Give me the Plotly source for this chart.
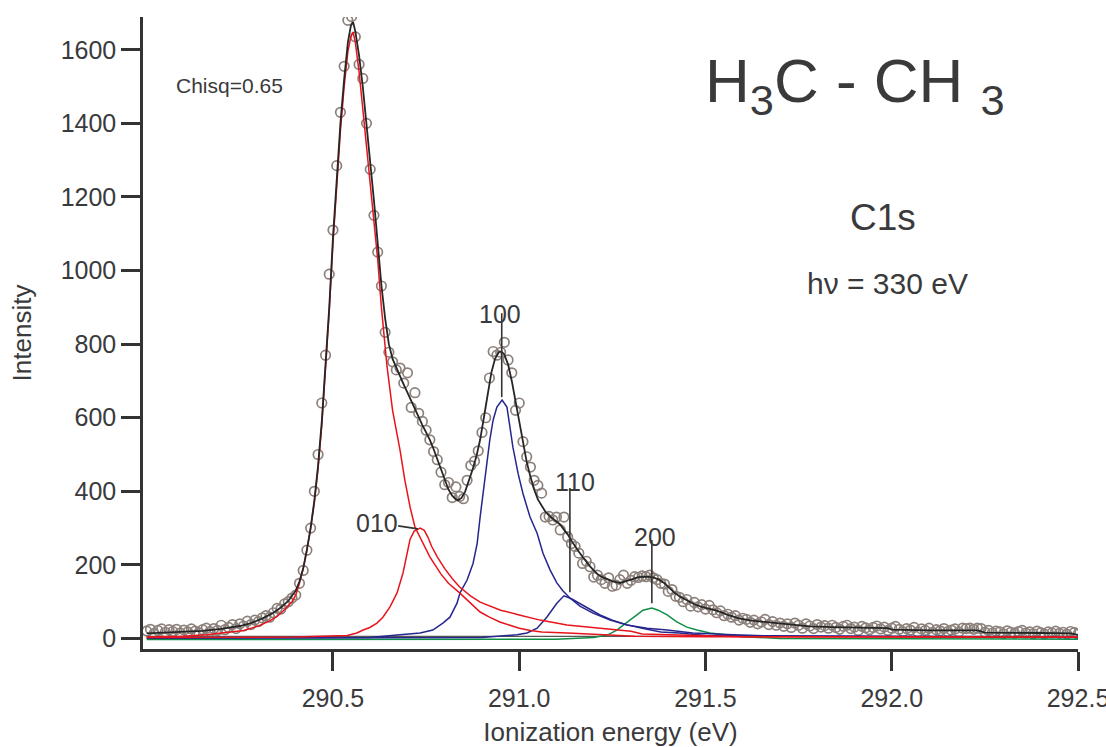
import numpy as np
import plotly.graph_objects as go

# ---------------- data ----------------
energy = np.linspace(290.0, 292.5, 251)  # measured energy grid, 10 meV step

intensity = [
    20, 25, 14, 22, 26, 17, 24, 19, 25, 15, 23, 18, 26, 20, 16, 24, 28, 19, 27, 22,
    36, 24, 30, 38, 27, 40, 34, 47, 38, 50, 46, 56, 62, 58, 70, 82, 80, 94, 100, 110,
    118, 150, 185, 240, 300, 400, 500, 640, 770, 990, 1110, 1285, 1430, 1555, 1680, 1690,
    1635, 1560, 1522, 1400, 1275, 1150, 1050, 958, 832, 778, 752, 730, 735, 694,
    722, 628, 668, 612, 590, 566, 540, 508, 486, 452, 418, 424, 383, 412, 386,
    380, 430, 470, 482, 510, 560, 600, 708, 780, 770, 778, 805, 757, 722, 620, 640, 535, 494, 466, 430,
    416, 395, 330, 332, 322, 330, 295, 330, 276, 258, 250, 232, 204, 210, 195, 167, 172, 160, 150, 165,
    142, 145, 160, 172, 150, 158, 168, 166, 170, 168, 172, 165, 160, 150, 148,
    128, 133, 115, 112, 100, 106, 88, 98, 86, 92, 80, 90, 78, 70, 75, 62, 66, 58, 62, 50,
    55, 52, 44, 50, 40, 45, 52, 38, 46, 36, 42, 33, 40, 30, 42, 36, 28, 40, 34, 27,
    38, 31, 35, 28, 36, 30, 25, 33, 36, 27, 31, 22, 33, 29, 24, 30, 34, 26, 31, 22,
    28, 33, 25, 19, 27, 23, 30, 18, 26, 22, 28, 17, 24, 21, 27, 19, 23, 26, 18, 28,
    27, 28, 25, 28, 27, 17, 22, 15, 20, 18, 13, 21, 17, 14, 19, 22, 15, 18, 13, 20,
    16, 12, 18, 15, 20, 14, 17, 12, 19, 16, 12,
]

fit_x = [290.00, 290.05, 290.10, 290.15, 290.20, 290.25, 290.28, 290.31, 290.34, 290.36, 290.38,
         290.40, 290.41, 290.42, 290.43, 290.44, 290.45, 290.46, 290.47, 290.48, 290.49, 290.50,
         290.51, 290.52, 290.53, 290.54, 290.548, 290.554, 290.56, 290.57, 290.58, 290.59, 290.60,
         290.61, 290.62, 290.63, 290.64, 290.65, 290.66, 290.67, 290.68, 290.69, 290.70, 290.71,
         290.72, 290.73, 290.74, 290.75, 290.76, 290.77, 290.78, 290.79, 290.80, 290.81, 290.82,
         290.83, 290.836, 290.845, 290.855, 290.865, 290.875, 290.885, 290.895, 290.905, 290.915,
         290.925, 290.935, 290.945, 290.952, 290.96, 290.97, 290.98, 290.99, 291.00, 291.01, 291.02,
         291.03, 291.04, 291.05, 291.06, 291.07, 291.08, 291.09, 291.10, 291.11, 291.12, 291.13,
         291.14, 291.15, 291.16, 291.17, 291.18, 291.19, 291.20, 291.21, 291.22, 291.235, 291.25,
         291.27, 291.285, 291.30, 291.32, 291.34, 291.36, 291.375, 291.39, 291.40, 291.415, 291.43,
         291.45, 291.47, 291.49, 291.51, 291.53, 291.56, 291.59, 291.62, 291.66, 291.70, 291.74,
         291.78, 291.84, 291.90, 291.99, 292.00, 292.10, 292.23, 292.25, 292.40, 292.48, 292.50]
fit_y = [14, 16, 18, 21, 26, 34, 42, 54, 70, 84, 102,
         130, 155, 190, 240, 300, 375, 470, 590, 740, 900, 1090,
         1260, 1400, 1520, 1620, 1665, 1675, 1650, 1585, 1500, 1400, 1300,
         1190, 1075, 960, 870, 800, 760, 735, 712, 690, 668, 645,
         622, 600, 580, 560, 540, 515, 488, 458, 430, 405, 388,
         378, 376, 382, 400, 428, 460, 495, 540, 600, 665,
         722, 760, 778, 780, 772, 745, 700, 645, 590, 530, 480,
         440, 405, 378, 360, 345, 334, 326, 318, 310, 296, 283,
         266, 250, 236, 222, 208, 196, 185, 175, 168, 162, 156,
         151, 155, 160, 167, 168, 166, 160, 150, 140, 126, 115,
         104, 93, 86, 82, 76, 64, 55, 49, 45, 40, 36,
         33, 31, 30, 28, 24, 22, 22, 16, 15, 14, 10]

# component 000 (red, main line)
c000_x = [290.00, 290.10, 290.16, 290.22, 290.26, 290.30, 290.33, 290.35, 290.37, 290.39, 290.40,
          290.41, 290.42, 290.43, 290.44, 290.45, 290.46, 290.47, 290.48, 290.49, 290.50, 290.51,
          290.52, 290.53, 290.54, 290.548, 290.554, 290.56, 290.57, 290.58, 290.59, 290.60, 290.61,
          290.62, 290.63, 290.645, 290.66, 290.68, 290.693, 290.707, 290.72, 290.74, 290.76, 290.79,
          290.81, 290.84, 290.87, 290.895, 290.92, 290.948, 290.975, 291.00, 291.03, 291.06, 291.13,
          291.20, 291.31, 291.50, 292.50]
c000_y = [4, 6, 10, 16, 22, 34, 48, 60, 78, 100, 118,
          150, 190, 242, 300, 370, 462, 580, 730, 890, 1075, 1240,
          1380, 1500, 1595, 1635, 1648, 1620, 1540, 1440, 1335, 1230, 1130,
          1030, 900, 740, 620, 512, 430, 357, 303, 262, 222, 175,
          150, 124, 95, 72, 58, 45, 36, 28, 22, 18, 15,
          12, 6, 5, 4]

# component 010 (red)
c010_x = [290.00, 290.40, 290.538, 290.564, 290.581, 290.599, 290.618, 290.634, 290.653, 290.672,
          290.688, 290.699, 290.707, 290.718, 290.734, 290.745, 290.755, 290.765, 290.78, 290.80,
          290.82, 290.84, 290.87, 290.895, 290.92, 290.95, 291.00, 291.056, 291.128, 291.217, 291.30,
          291.33, 291.45, 291.60, 292.50]
c010_y = [3, 4, 8, 15, 23, 30, 42, 58, 86, 124,
          178, 231, 270, 292, 300, 294, 275, 250, 222, 190,
          163, 140, 115, 99, 88, 77, 64, 50, 37, 28, 20,
          12, 8, 5, 4]

# component 100 (blue)
c100_x = [290.00, 290.60, 290.68, 290.734, 290.768, 290.795, 290.814, 290.833, 290.841, 290.86,
          290.876, 290.887, 290.895, 290.903, 290.913, 290.921, 290.93, 290.94, 290.954, 290.967,
          290.975, 290.983, 290.997, 291.01, 291.029, 291.048, 291.064, 291.083, 291.101, 291.117,
          291.136, 291.163, 291.198, 291.244, 291.289, 291.343, 291.397, 291.466, 291.574, 291.70,
          292.50]
c100_y = [1, 3, 10, 15, 23, 42, 58, 96, 124, 159,
          204, 258, 330, 395, 467, 540, 594, 629, 648, 629,
          575, 520, 448, 394, 330, 286, 231, 186, 151, 130,
          110, 88, 69, 50, 37, 28, 23, 15, 10, 6,
          3]

# component 110 (blue)
c110_x = [290.00, 290.90, 290.994, 291.021, 291.048, 291.074, 291.101, 291.12, 291.14, 291.16,
          291.185, 291.217, 291.25, 291.29, 291.33, 291.38, 291.43, 291.50, 292.50]
c110_y = [1, 3, 10, 15, 28, 58, 96, 116, 108, 97,
          83, 64, 50, 37, 28, 18, 15, 8, 4]

# component 200 (green)
c200_x = [290.00, 291.10, 291.20, 291.238, 291.262, 291.279, 291.297, 291.316, 291.332, 291.356,
          291.373, 291.397, 291.423, 291.45, 291.477, 291.512, 291.558, 291.60, 291.70, 292.50]
c200_y = [-3, -2, 3, 10, 23, 37, 50, 64, 77, 83,
          77, 64, 45, 31, 23, 15, 10, 5, 0, -2]

# constant background level (grey line)
bg_x = [290.00, 292.50]
bg_y = [6, 6]

# peak labels: text, label position, leader line (x, y_top, x_end, y_end)
peak_labels = ["100", "110", "200", "010"]
label_x = [290.948, 291.150, 291.364, 290.618]
label_y = [881, 425, 276, 314]
leader_x0 = [290.953, 291.136, 291.356, 290.675]
leader_y0 = [884, 409, 268, 306]
leader_x1 = [290.953, 291.136, 291.356, 290.728]
leader_y1 = [656, 126, 96, 298]

xtick_vals = [290.5, 291.0, 291.5, 292.0, 292.5]
xtick_text = ["290.5", "291.0", "291.5", "292.0", "292.5"]
ytick_vals = [0, 200, 400, 600, 800, 1000, 1200, 1400, 1600]

assert len(intensity) == len(energy)

# ---------------- styling ----------------
FONT = "Liberation Sans, Arial, sans-serif"
TXT = "#3a3a3c"
RED = "#e8141c"
BLUE = "#26268e"
GREEN = "#0e8f46"

fig = go.Figure()

fig.add_trace(go.Scatter(x=energy, y=intensity, mode="markers",
                         marker=dict(symbol="circle-open", size=9.5, color="#8c807b",
                                     line=dict(width=1.7, color="#8c807b")),
                         showlegend=False))
fig.add_trace(go.Scatter(x=bg_x, y=bg_y, mode="lines", line=dict(color="#555555", width=1.2),
                         showlegend=False))
for cx, cy, col in [(c200_x, c200_y, GREEN), (c110_x, c110_y, BLUE), (c100_x, c100_y, BLUE),
                    (c010_x, c010_y, RED), (c000_x, c000_y, RED)]:
    fig.add_trace(go.Scatter(x=cx, y=cy, mode="lines", line=dict(color=col, width=1.5),
                             showlegend=False))
fig.add_trace(go.Scatter(x=fit_x, y=fit_y, mode="lines", line=dict(color="#262626", width=1.8),
                         showlegend=False))

for i, t in enumerate(peak_labels):
    fig.add_shape(type="line", x0=leader_x0[i], y0=leader_y0[i], x1=leader_x1[i], y1=leader_y1[i],
                  xref="x", yref="y", line=dict(color="#333333", width=1.6))
    fig.add_annotation(x=label_x[i], y=label_y[i], xref="x", yref="y", text=t, showarrow=False,
                       font=dict(family=FONT, size=25, color=TXT), xanchor="center", yanchor="middle")

fig.add_annotation(x=0.092, y=0.892, xref="paper", yref="paper", text="Chisq=0.65", showarrow=False,
                   font=dict(family=FONT, size=21, color=TXT), xanchor="center", yanchor="middle")
fig.add_annotation(x=0.761, y=0.893, xref="paper", yref="paper",
                   text="H<sub>3</sub>C - CH <sub>3</sub>", showarrow=False,
                   font=dict(family=FONT, size=62, color=TXT), xanchor="center", yanchor="middle")
fig.add_annotation(x=0.791, y=0.682, xref="paper", yref="paper", text="C1s", showarrow=False,
                   font=dict(family=FONT, size=37, color=TXT), xanchor="center", yanchor="middle")
fig.add_annotation(x=0.796, y=0.579, xref="paper", yref="paper", text="hν = 330 eV", showarrow=False,
                   font=dict(family=FONT, size=30, color=TXT), xanchor="center", yanchor="middle")

fig.update_layout(
    width=1106, height=747,
    margin=dict(l=143, r=28, t=17, b=98, autoexpand=False),
    paper_bgcolor="white", plot_bgcolor="white",
    showlegend=False,
    font=dict(family=FONT, color=TXT, size=25),
)
fig.update_xaxes(range=[289.99, 292.5], tickvals=xtick_vals, ticktext=xtick_text,
                 automargin=False,
                 showgrid=False, zeroline=False, showline=True, linecolor="#333333", linewidth=2.5,
                 ticks="outside", ticklen=19, tickwidth=3, tickcolor="#333333",
                 ticklabeloverflow="allow", ticklabelstandoff=6,
                 tickfont=dict(family=FONT, size=25, color=TXT),
                 title=dict(text="Ionization energy (eV)", font=dict(family=FONT, size=26, color=TXT),
                            standoff=16))
fig.update_yaxes(range=[-28.5, 1689], tickvals=ytick_vals,
                 automargin=False,
                 showgrid=False, zeroline=False, showline=True, linecolor="#333333", linewidth=2.5,
                 ticks="outside", ticklen=19, tickwidth=3, tickcolor="#333333",
                 tickfont=dict(family=FONT, size=25, color=TXT),
                 title=dict(text="Intensity", font=dict(family=FONT, size=26, color=TXT), standoff=22))

fig.write_html("out.html")
